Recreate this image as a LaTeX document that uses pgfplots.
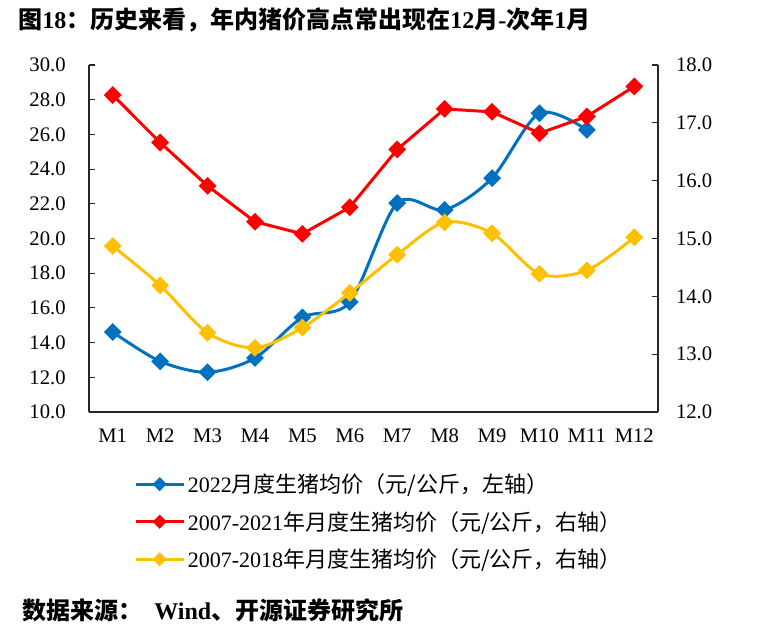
\documentclass[border=0pt]{standalone}
\usepackage{fontspec}
\setmainfont{Liberation Serif}
\newfontfamily\cjk{Noto Sans CJK SC}
\usepackage{pgfplots}
\pgfplotsset{compat=1.18}
\definecolor{cblue}{RGB}{0,112,192}
\definecolor{cred}{RGB}{255,0,0}
\definecolor{cyel}{RGB}{255,192,0}
\begin{document}
\begin{tikzpicture}[x=1pt,y=1pt]
\path[use as bounding box] (-66.75,-168) rectangle (504,309);
\pgfplotsset{
  every axis/.append style={
    scale only axis, width=426.75pt, height=260.25pt,
    xmin=0.5, xmax=12.5, at={(0,0)}, anchor=south west,
    tick align=inside, major tick length=4.5pt,
    axis line style={black!85, line width=0.8pt},
    tick style={black!85, line width=0.8pt},
    tick label style={font=\fontsize{15.5}{18}\selectfont},
    /pgf/number format/.cd, fixed, fixed zerofill, precision=1, assume math mode=true,
  },
  mystyle/.style={line width=2.25pt, mark=square*, mark size=3.6pt, mark options={rotate=45, solid}},
}
\begin{axis}[
  axis x line*=bottom, axis y line*=left,
  ymin=10, ymax=30, ytick={10,12,14,16,18,20,22,24,26,28,30},
  xtick={1,...,12}, xticklabels={M1,M2,M3,M4,M5,M6,M7,M8,M9,M10,M11,M12},
  xtick style={draw=none},
  minor xtick={1.5,2.5,...,11.5}, minor tick length=6pt,
  minor tick style={black!85, line width=0.8pt},
  xticklabel style={yshift=-9pt},
  yticklabel style={xshift=-14pt},
]
\addplot[cblue, mystyle, smooth] coordinates {
(1,14.61) (2,12.92) (3,12.29) (4,13.11) (5,15.45) (6,16.34) (7,22.04) (8,21.65) (9,23.48) (10,27.22) (11,26.26)};
\end{axis}
\begin{axis}[
  axis x line=none, axis y line*=right,
  ymin=12, ymax=18, ytick={12,13,14,15,16,17,18},
  yticklabel style={xshift=10pt},
  legend style={draw=none, fill=none, at={(0.072,-0.162)}, anchor=north west,
    font=\fontsize{16.5}{19}\selectfont, row sep=8.5pt, cells={anchor=west}},
  legend image code/.code={\draw[#1, mark size=2.6pt, mark repeat=2, mark phase=2] plot coordinates {(0pt,0pt) (18pt,0pt) (36pt,0pt)};},
]
\addlegendimage{cblue, mystyle}
\addlegendentry{2022{\cjk 月度生猪均价（元/公斤，左轴）}}
\addplot[cred, mystyle] coordinates {
(1,17.48) (2,16.66) (3,15.91) (4,15.29) (5,15.08) (6,15.54) (7,16.54) (8,17.24) (9,17.19) (10,16.82) (11,17.11) (12,17.63)};
\addlegendentry{2007-2021{\cjk 年月度生猪均价（元/公斤，右轴）}}
\addplot[cyel, mystyle, smooth] coordinates {
(1,14.87) (2,14.19) (3,13.37) (4,13.11) (5,13.46) (6,14.06) (7,14.72) (8,15.28) (9,15.09) (10,14.39) (11,14.45) (12,15.02)};
\addlegendentry{2007-2018{\cjk 年月度生猪均价（元/公斤，右轴）}}
\end{axis}
\node[anchor=west, inner sep=0pt, font=\fontsize{18}{21}\selectfont\bfseries] at (-53.25,294)
  {{\cjk 图}18{\cjk ：历史来看，年内猪价高点常出现在}12{\cjk 月}-{\cjk 次年}1{\cjk 月}};
\node[anchor=west, inner sep=0pt, font=\fontsize{18}{21}\selectfont\bfseries] at (-50.25,-148.5)
  {{\cjk 数据来源：}\ \ Wind{\cjk 、开源证券研究所}};
\end{tikzpicture}
\end{document}
